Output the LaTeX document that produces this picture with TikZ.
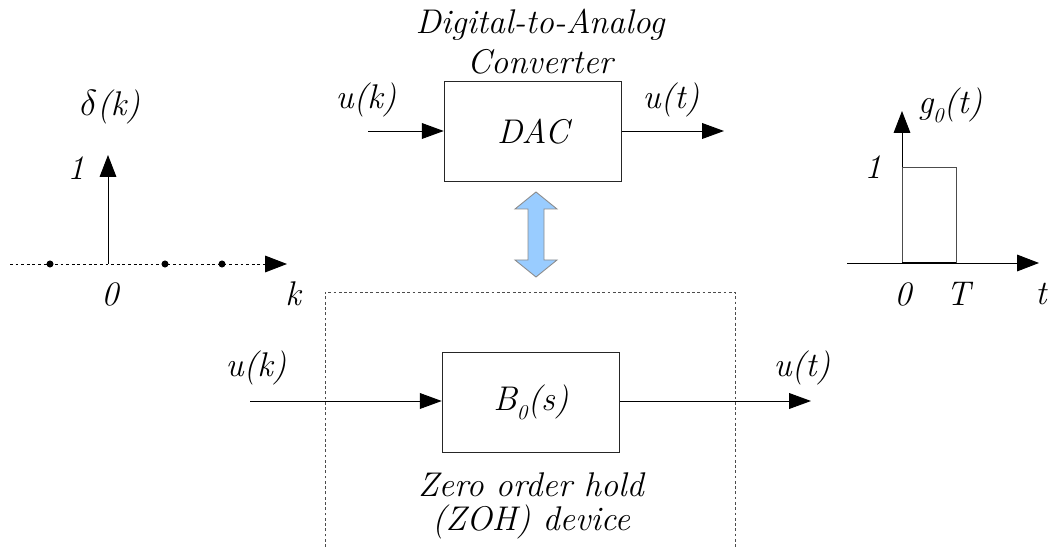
\documentclass[tikz,border=0pt]{standalone}
\usepackage{fontspec}
\usetikzlibrary{arrows.meta,positioning}
\definecolor{holdblue}{RGB}{153,204,255}
\tikzset{
  blk/.style={draw=black!85,line width=0.6pt,minimum width=101pt,minimum height=57.3pt,inner sep=0pt},
  sig/.style={-{Triangle[length=12.5pt,width=9pt]},line width=0.55pt},
  axis/.style={-{Triangle[length=12.5pt,width=9.5pt]},line width=0.55pt},
  dotaxis/.style={axis,dash pattern=on 1.6pt off 1.6pt},
  zohbox/.style={draw=black!70,line width=0.5pt,dash pattern=on 1.6pt off 1.4pt},
  pulse/.style={draw=black!70,line width=0.5pt},
  lbl/.style={inner sep=0pt},
  every node/.style={font=\fontsize{19.5}{23}\selectfont\itshape}
}

\begin{document}
\begin{tikzpicture}[x=0.02cm,y=-0.02cm]
\useasboundingbox (0,0) rectangle (1049,547);

% unit impulse delta(k)
\coordinate (dorig) at (108,264);
\coordinate (kstart) at (10,264);
\coordinate (kend) at (287,264);
\coordinate (dtop) at (108,155);
\draw[dotaxis] (kstart) -- (kend);
\draw[axis] (dorig) -- (dtop);
\foreach \x in {50,165,222} \fill (\x,264) circle (2pt);
\node[lbl] (dlab) at (110,107) {$\delta$(k)};
\node[lbl] (done) at (76,168) {1};
\node[lbl] (dzero) at (110,294) {0};
\node[lbl] (dk) at (293,294) {k};

% DAC block
\node[blk] (dac) at (533,131.5) {DAC};
\node[lbl] (dactitle) at (540,25) {Digital-to-Analog};
\node[lbl] (dacconv) at (540,62) {Converter};
\coordinate (dacin) at (368,131);
\coordinate (dacout) at (724,131);
\draw[sig] (dacin) -- (dac.west |- dacin);
\draw[sig] (dac.east |- dacout) -- (dacout);
\node[lbl] (dacu) at (366,100) {u(k)};
\node[lbl] (dacy) at (671,100) {u(t)};

% equivalence arrow
\fill[holdblue,draw=black!45,line width=0.5pt]
  (536,192) -- (557,209) -- (544,209) -- (544,260) -- (557,260) -- (536,277)
  -- (515,260) -- (528,260) -- (528,209) -- (515,209) -- cycle;

% pulse response g0(t)
\coordinate (gorig) at (902,263);
\coordinate (gtop) at (902,111);
\coordinate (tstart) at (847,263);
\coordinate (tend) at (1039,263);
\draw[axis] (gorig) -- (gtop);
\draw[axis] (tstart) -- (tend);
\draw[pulse] (gorig) |- (956,167) -- (956,263);
\draw[line width=1pt] (gorig) -- (956,263);
\node[lbl] (glab) at (950,105) {g\raisebox{-5pt}{\fontsize{12}{12}\selectfont 0}(t)};
\node[lbl] (gone) at (873,167) {1};
\node[lbl] (gzero) at (903,294) {0};
\node[lbl] (gT) at (958,294) {T};
\node[lbl] (gt) at (1041,294) {t};

% zero order hold
\draw[zohbox] (325,547) -- (325,292) -- (735,292) -- (735,547);
\node[blk] (zoh) at (531,402.5) {B\raisebox{-5pt}{\fontsize{12}{12}\selectfont 0}(s)};
\coordinate (zohin) at (250,401);
\coordinate (zohout) at (811,401);
\draw[sig] (zohin) -- (zoh.west |- zohin);
\draw[sig] (zoh.east |- zohout) -- (zohout);
\node[lbl] (zohu) at (256,368) {u(k)};
\node[lbl] (zohy) at (802,368) {u(t)};
\node[lbl] (zohname) at (531,485) {Zero order hold};
\node[lbl] (zohdev) at (531,522) {(ZOH) device};
\end{tikzpicture}
\end{document}
